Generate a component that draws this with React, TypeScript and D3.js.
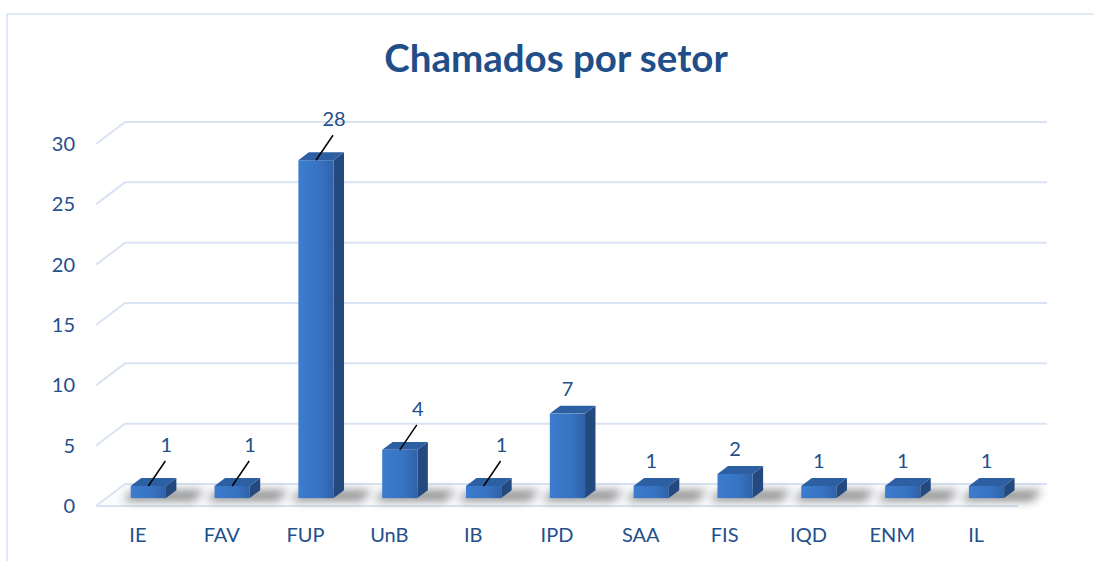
import * as d3 from 'd3';

const categories = ['IE', 'FAV', 'FUP', 'UnB', 'IB', 'IPD', 'SAA', 'FIS', 'IQD', 'ENM', 'IL'];
const values = [1, 1, 28, 4, 1, 7, 1, 2, 1, 1, 1];
const leaderLines = ['IE', 'FAV', 'FUP', 'UnB', 'IB'];
const yTicks = [0, 5, 10, 15, 20, 25, 30];
const title = 'Chamados por setor';

const width = 1094;
const height = 561;
const font = 'Lato, "Open Sans", sans-serif';
const textColour = '#234f8b';
const gridColour = '#d9e3f3';

// oblique 3d: the floor runs from the front edge to the back wall
const depth = { dx: 29, dy: -22 };
const barDepth = [0.36, 0.72];

export default function App() {
  const x = d3.scaleBand(categories, [96, 1018]);
  const y = d3.scaleLinear([0, 30], [506, 144]);
  const barW = x.bandwidth() * 0.42;

  const shift = (f: number) => ({ dx: depth.dx * f, dy: depth.dy * f });
  const near = shift(barDepth[0]);
  const far = shift(barDepth[1]);
  const dd = { dx: far.dx - near.dx, dy: far.dy - near.dy };

  return (
    <svg
      width={width}
      height={height}
      style={{ position: 'absolute', left: 0, top: 0, background: '#fff' }}
      fontFamily={font}
    >
      <defs>
        <linearGradient id="front" x1="0" x2="1" y1="0" y2="0">
          <stop offset="0" stopColor="#3c7cce" />
          <stop offset="0.6" stopColor="#3873c2" />
          <stop offset="1" stopColor="#2f62a8" />
        </linearGradient>
        <filter id="blur" x="-50%" y="-100%" width="200%" height="300%">
          <feGaussianBlur stdDeviation="5" />
        </filter>
      </defs>

      <path d={`M7,${height}V14H${width}`} fill="none" stroke="#d6e2f3" strokeWidth={1.5} />

      <text
        x={556}
        y={72}
        textAnchor="middle"
        fontSize={38.5}
        fontWeight="bold"
        fill="#1f4e89"
      >
        {title}
      </text>

      {/* floor */}
      <path
        d={`M${x.range()[0]},${y(0)}L${x.range()[0] + depth.dx},${y(0) + depth.dy}H${x.range()[1] + depth.dx}L${x.range()[1]},${y(0)}Z`}
        fill="#fbfcfe"
        stroke="none"
      />
      <line x1={x.range()[0]} x2={x.range()[1]} y1={y(0)} y2={y(0)} stroke={gridColour} strokeWidth={2} />

      {yTicks.map((t) => (
        <g key={t}>
          <path
            d={`M${x.range()[0]},${y(t)}L${x.range()[0] + depth.dx},${y(t) + depth.dy}H${x.range()[1] + depth.dx}`}
            fill="none"
            stroke={gridColour}
            strokeWidth={2}
          />
          <text x={75} y={y(t)} dy="0.35em" textAnchor="end" fontSize={20} fill={textColour}>
            {t}
          </text>
        </g>
      ))}

      {/* shadows on the floor */}
      {categories.map((c) => {
        const x0 = (x(c) ?? 0) + (x.bandwidth() - barW) / 2 + near.dx;
        const yb = y(0) + near.dy;
        return (
          <path
            key={c}
            d={`M${x0 - 8},${yb + 3}L${x0 - 8 + dd.dx},${yb + dd.dy}H${x0 + barW + 28 + dd.dx}L${x0 + barW + 28},${yb + 3}Z`}
            fill="#5e5e5e"
            opacity={0.7}
            filter="url(#blur)"
          />
        );
      })}

      {categories.map((c, i) => {
        const v = values[i];
        const x0 = (x(c) ?? 0) + (x.bandwidth() - barW) / 2 + near.dx;
        const x1 = x0 + barW;
        const yb = y(0) + near.dy;
        const yt = yb - (y(0) - y(v));
        const cx = (x0 + x1) / 2;
        const hasLeader = leaderLines.includes(c);
        return (
          <g key={c}>
            <path
              d={`M${x1},${yb}V${yt}L${x1 + dd.dx},${yt + dd.dy}V${yb + dd.dy}Z`}
              fill="#24497f"
            />
            <path
              d={`M${x0},${yt}L${x0 + dd.dx},${yt + dd.dy}H${x1 + dd.dx}L${x1},${yt}Z`}
              fill="#2d5fa3"
            />
            <rect x={x0} y={yt} width={barW} height={yb - yt} fill="url(#front)" />
            {hasLeader ? (
              <>
                <line x1={cx} y1={yt} x2={cx + 17} y2={yt - 25} stroke="#000" strokeWidth={1.5} />
                <text x={cx + 18} y={yt - 34} textAnchor="middle" fontSize={20} fill={textColour}>
                  {v}
                </text>
              </>
            ) : (
              <text x={cx} y={yt + dd.dy - 10} textAnchor="middle" fontSize={20} fill={textColour}>
                {v}
              </text>
            )}
          </g>
        );
      })}

      {categories.map((c) => (
        <text
          key={c}
          x={(x(c) ?? 0) + x.bandwidth() / 2}
          y={542}
          textAnchor="middle"
          fontSize={20}
          fill={textColour}
        >
          {c}
        </text>
      ))}
    </svg>
  );
}
